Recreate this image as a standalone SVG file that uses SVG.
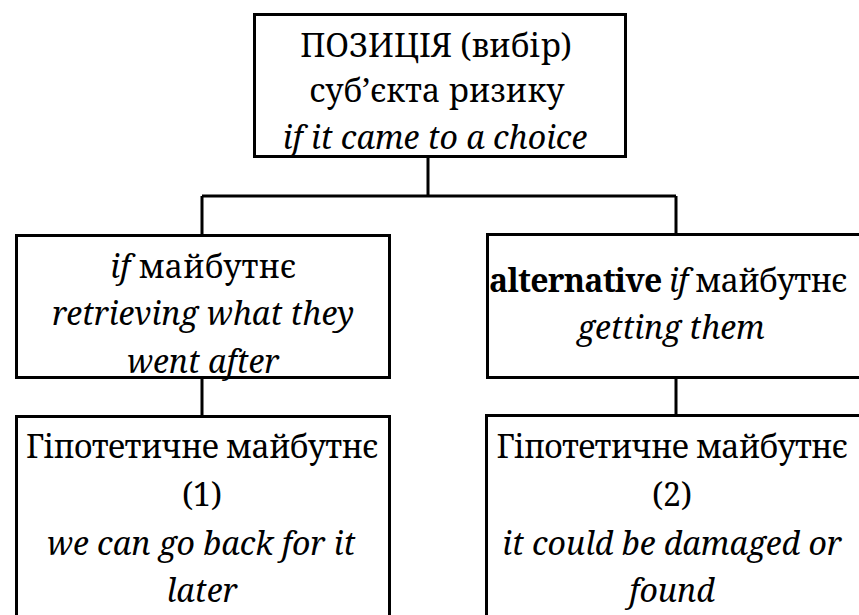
<svg xmlns="http://www.w3.org/2000/svg" width="859" height="615" viewBox="0 0 859 615">
<style>
.box{fill:#fff;stroke:#000;stroke-width:3}
.t{font-family:'Noto Serif',serif;font-size:32px;fill:#000;text-anchor:middle}
.i{font-style:italic}
.b{font-weight:bold}
.c{fill:none;stroke:#000;stroke-width:3}
</style>
<rect width="859" height="615" fill="#fff"/>
<g id="connectors">
<path class="c" d="M428 157V196M202 196H676M202 196V235M676 196V234M202 378V416M676 378V415"/>
</g>
<g id="top">
<rect class="box" x="254.5" y="14.5" width="371" height="142"/>
<text class="t" x="436" y="57">ПОЗИЦІЯ (вибір)</text>
<text class="t" x="437" y="102">суб’єкта ризику</text>
<text class="t i" x="435" y="149">if it came to a choice</text>
</g>
<g id="left1">
<rect class="box" x="16.5" y="235.5" width="373" height="142"/>
<text class="t" x="203" y="278"><tspan class="i">if</tspan> майбутнє</text>
<text class="t i" x="203" y="325">retrieving what they</text>
<text class="t i" x="203" y="373">went after</text>
</g>
<g id="right1">
<rect class="box" x="487.5" y="234.5" width="375" height="143"/>
<text class="t" x="668" y="292" textLength="358"><tspan class="b">alternative</tspan> <tspan class="i">if</tspan> майбутнє</text>
<text class="t i" x="671" y="339">getting them</text>
</g>
<g id="left2">
<rect class="box" x="16.5" y="416.5" width="373" height="200"/>
<text class="t" x="202" y="458" textLength="352">Гіпотетичне майбутнє</text>
<text class="t" x="202" y="506">(1)</text>
<text class="t i" x="201" y="555">we can go back for it</text>
<text class="t i" x="202" y="602">later</text>
</g>
<g id="right2">
<rect class="box" x="486.5" y="415.5" width="376" height="201"/>
<text class="t" x="672" y="458" textLength="351">Гіпотетичне майбутнє</text>
<text class="t" x="672" y="506">(2)</text>
<text class="t i" x="672" y="555">it could be damaged or</text>
<text class="t i" x="672" y="602">found</text>
</g>
</svg>
